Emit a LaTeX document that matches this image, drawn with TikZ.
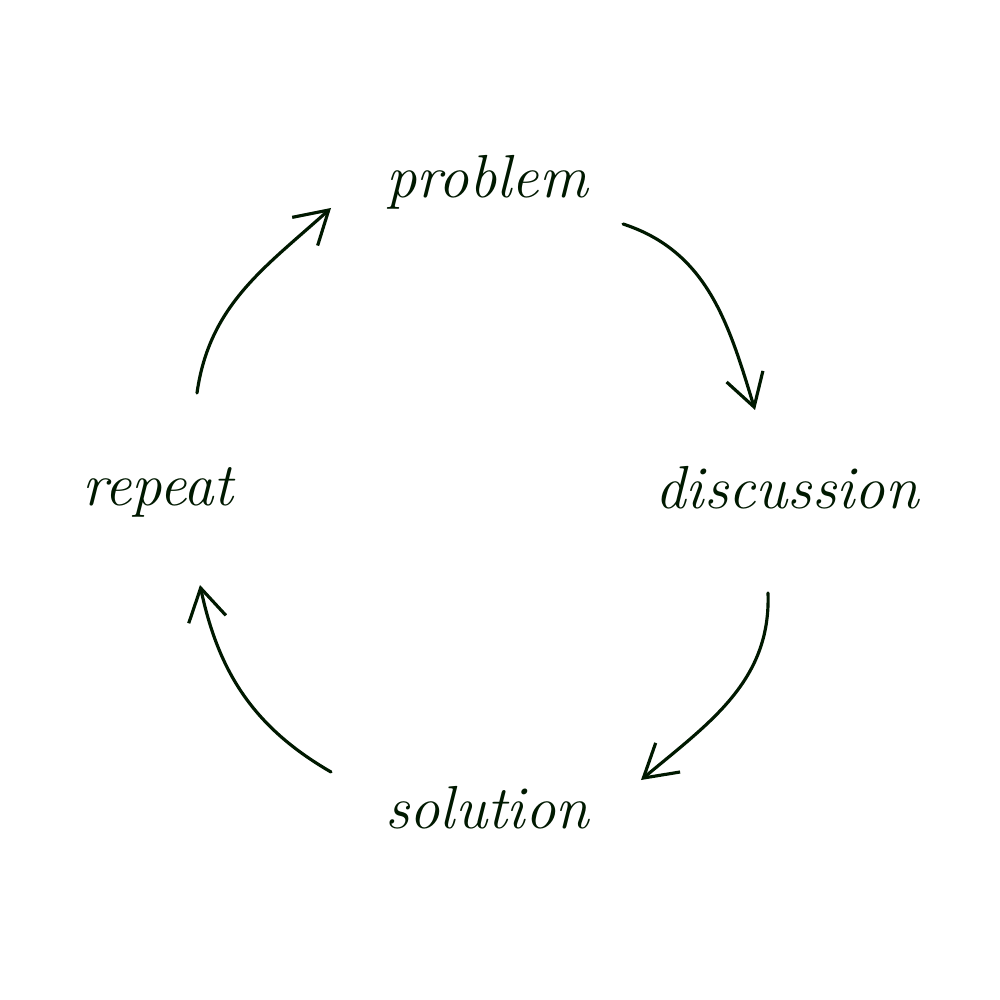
\documentclass[tikz,border=0pt]{standalone}
\usetikzlibrary{arrows.meta}
\begin{document}
\begin{tikzpicture}[
  word/.style={inner sep=0pt,font=\fontsize{17.3}{20}\selectfont\itshape,
    text=black!90!green},
  cycarrow/.style={draw=black!90!green,line width=0.9pt,line cap=round,
    -{Straight Barb[length=3.2mm,width=3.8mm,line width=0.9pt]}}]
\useasboundingbox[fill=white] (0,0) rectangle (10,-10);
% the four stages
\node[word] (problem) at (4.87,-1.82) {problem};
\node[word] (discussion) at (7.87,-4.88) {discussion};
\node[word] (solution) at (4.87,-8.08) {solution};
\node[word] (repeat) at (1.58,-4.92) {repeat};
% arrow ends
\coordinate (rp0) at (1.97,-3.93);
\coordinate (rp1) at (3.31,-2.08);
\coordinate (pd0) at (6.23,-2.24);
\coordinate (pd1) at (7.55,-4.10);
\coordinate (ds0) at (7.68,-5.93);
\coordinate (ds1) at (6.41,-7.80);
\coordinate (sr0) at (3.31,-7.72);
\coordinate (sr1) at (2.00,-5.85);
% the cycle
\draw[cycarrow] (rp0) to[out=82,in=222] (rp1);
\draw[cycarrow] (pd0) to[out=-18,in=107] (pd1);
\draw[cycarrow] (ds0) to[out=-88,in=40] (ds1);
\draw[cycarrow] (sr0) to[out=150,in=-78] (sr1);
\end{tikzpicture}
\end{document}
